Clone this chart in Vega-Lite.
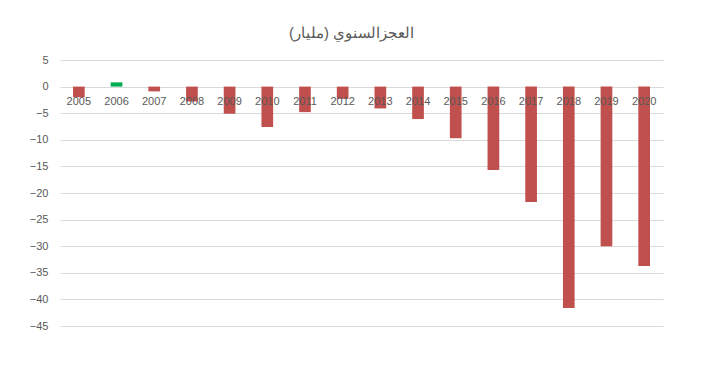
{
  "$schema": "https://vega.github.io/schema/vega-lite/v6.json",
  "width": 603,
  "height": 266,
  "autosize": {"type": "none"},
  "padding": {"left": 60, "top": 60, "right": 40, "bottom": 40},
  "background": "white",
  "title": {
    "text": "العجزالسنوي (مليار)",
    "anchor": "middle",
    "dx": -10,
    "offset": 13,
    "fontSize": 15,
    "fontWeight": "normal",
    "font": "Liberation Sans",
    "color": "#595959"
  },
  "data": {
    "values": [
      {"year": "2005", "value": -2.0},
      {"year": "2006", "value": 0.8},
      {"year": "2007", "value": -0.9},
      {"year": "2008", "value": -2.8},
      {"year": "2009", "value": -5.1},
      {"year": "2010", "value": -7.6},
      {"year": "2011", "value": -4.8},
      {"year": "2012", "value": -2.3},
      {"year": "2013", "value": -4.1},
      {"year": "2014", "value": -6.1},
      {"year": "2015", "value": -9.7},
      {"year": "2016", "value": -15.7},
      {"year": "2017", "value": -21.7},
      {"year": "2018", "value": -41.6},
      {"year": "2019", "value": -30.0},
      {"year": "2020", "value": -33.7}
    ]
  },
  "encoding": {
    "x": {
      "field": "year",
      "type": "ordinal",
      "scale": {"paddingInner": 0.69, "paddingOuter": 0.345},
      "axis": null
    }
  },
  "layer": [
    {
      "mark": {"type": "bar"},
      "encoding": {
        "y": {
          "field": "value",
          "type": "quantitative",
          "scale": {"domain": [-45, 5], "nice": false, "zero": true},
          "axis": {
            "title": null,
            "values": [5, 0, -5, -10, -15, -20, -25, -30, -35, -40, -45],
            "tickCount": 11,
            "labelOverlap": false,
            "domain": false,
            "ticks": false,
            "labelPadding": 12,
            "labelFont": "Liberation Sans",
            "labelFontSize": 11,
            "labelColor": "#595959",
            "gridColor": "#D9D9D9",
            "gridWidth": 1
          }
        },
        "color": {
          "condition": {"test": "datum.value > 0", "value": "#00B050"},
          "value": "#C0504D"
        }
      }
    },
    {
      "mark": {
        "type": "text",
        "baseline": "middle",
        "align": "center",
        "dy": 15,
        "font": "Liberation Sans",
        "fontSize": 11,
        "color": "#595959"
      },
      "encoding": {
        "y": {"datum": 0, "type": "quantitative"},
        "text": {"field": "year"}
      }
    }
  ],
  "config": {
    "view": {"stroke": null}
  }
}
